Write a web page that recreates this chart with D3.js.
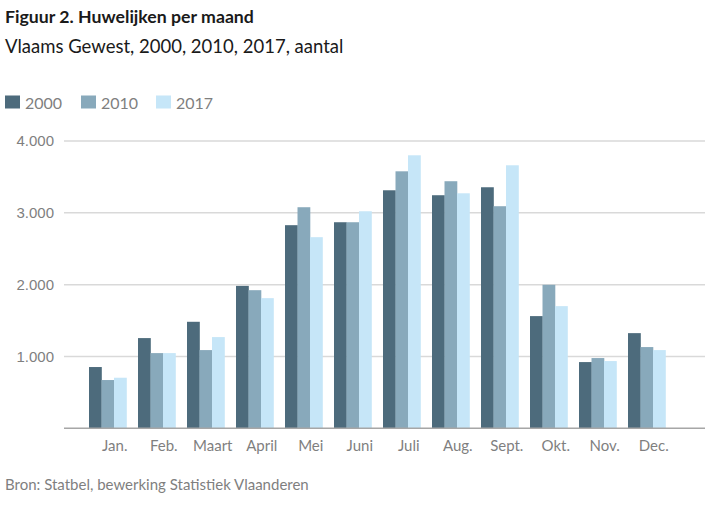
<!DOCTYPE html>
<html><head><meta charset="utf-8">
<script src="https://cdn.jsdelivr.net/npm/d3@7"></script>
<style>body{margin:0;background:#fff}svg{display:block}</style>
</head><body>
<script>
const months = ["Jan.","Feb.","Maart","April","Mei","Juni","Juli","Aug.","Sept.","Okt.","Nov.","Dec."];
const years = ["2000","2010","2017"];
const v2000 = [853,1256,1483,1983,2828,2869,3314,3245,3356,1562,922,1325];
const v2010 = [672,1047,1089,1923,3078,2869,3578,3440,3092,1998,978,1131];
const v2017 = [704,1047,1270,1812,2661,3022,3801,3272,3662,1701,936,1089];
const yTicks = [1000,2000,3000,4000];
const colors = ["#4d6b7c","#88a9bb","#c6e6f8"];
const series = [v2000, v2010, v2017];

const W = 721, H = 516;
const svg = d3.select("body").append("svg").attr("width", W).attr("height", H);

const gridL = 64, gridR = 705;
const y = d3.scaleLinear().domain([0,4000]).range([428.3,141]);
const x = d3.scaleBand().domain(months).range([83.25, 83.25 + 12*49]).paddingInner(0.235).paddingOuter(0.1175);
const x1 = d3.scaleBand().domain(years).range([0, x.bandwidth()]);

// Title
svg.append("text").attr("x",5).attr("y",23).attr("font-family","Lato").attr("font-weight","bold")
  .attr("font-size",17.7).attr("fill","#1a1a1a").text("Figuur 2. Huwelijken per maand");
svg.append("text").attr("x",5).attr("y",53).attr("font-family","Lato")
  .attr("font-size",18.5).attr("fill","#1a1a1a").text("Vlaams Gewest, 2000, 2010, 2017, aantal");

// Legend
const legX = [5,81,156];
years.forEach((yr,i)=>{
  svg.append("rect").attr("x",legX[i]).attr("y",95.5).attr("width",15).attr("height",13).attr("fill",colors[i]);
  svg.append("text").attr("x",legX[i]+20).attr("y",109).attr("font-family","Lato").attr("font-size",16)
    .attr("fill","#7f7f7f").text(yr);
});

// Gridlines
svg.append("g").selectAll("line").data(yTicks).join("line")
  .attr("x1",gridL).attr("x2",gridR).attr("y1",d=>y(d)).attr("y2",d=>y(d))
  .attr("stroke","#d9d9d9").attr("stroke-width",1.5);

// Y axis labels
const yAxis = d3.axisLeft(y).tickValues(yTicks).tickSize(0).tickPadding(0)
  .tickFormat(d=>d3.format(",")(d).replace(/,/g,"."));
const ya = svg.append("g").attr("transform",`translate(54,0)`).call(yAxis);
ya.select(".domain").remove();
ya.selectAll("text").attr("font-family","Liberation Sans, Arial").attr("font-size",15).attr("fill","#7f7f7f");

// Bars
const g = svg.append("g");
months.forEach((m,mi)=>{
  years.forEach((yr,si)=>{
    g.append("rect")
      .attr("x", x(m) + x1(yr))
      .attr("width", x1.bandwidth()+0.3)
      .attr("y", y(series[si][mi]))
      .attr("height", y(0) - y(series[si][mi]))
      .attr("fill", colors[si]);
  });
});

// X axis
svg.append("line").attr("x1",gridL).attr("x2",gridR).attr("y1",y(0)).attr("y2",y(0))
  .attr("stroke","#a6a6a6").attr("stroke-width",1.5);
const xAxis = d3.axisBottom(x).tickSize(0).tickPadding(0);
const xa = svg.append("g").attr("transform",`translate(7,${y(0)+12})`).call(xAxis);
xa.select(".domain").remove();
xa.selectAll("text").attr("font-family","Lato").attr("font-size",15).attr("fill","#7f7f7f");

// Source
svg.append("text").attr("x",5).attr("y",490).attr("font-family","Lato").attr("font-size",15)
  .attr("fill","#7f7f7f").text("Bron: Statbel, bewerking Statistiek Vlaanderen");
</script>
</body></html>
